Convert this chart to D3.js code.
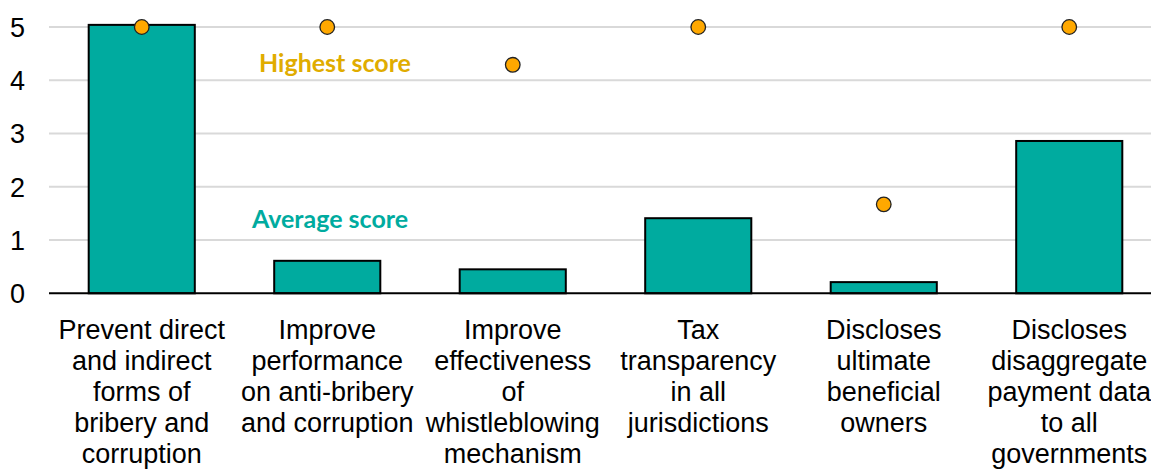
<!DOCTYPE html>
<html><head><meta charset="utf-8">
<script src="https://cdn.jsdelivr.net/npm/d3@7"></script>
<style>
html,body{margin:0;padding:0;background:#fff;overflow:hidden;}
svg{display:block;}
</style></head>
<body>
<svg id="c" width="1151" height="469"></svg>
<script>
const categories = [
  ["Prevent direct","and indirect","forms of","bribery and","corruption"],
  ["Improve","performance","on anti-bribery","and corruption"],
  ["Improve","effectiveness","of","whistleblowing","mechanism"],
  ["Tax","transparency","in all","jurisdictions"],
  ["Discloses","ultimate","beneficial","owners"],
  ["Discloses","disaggregate","payment data","to all","governments"]
];
const averageScore = [5.04, 0.61, 0.45, 1.41, 0.21, 2.86];
const highestScore = [5, 5, 4.29, 5, 1.67, 5];
const yTicks = [0,1,2,3,4,5];

const svg = d3.select("#c");
const pLeft = 49, pRight = 1162, pTop = 27, pBottom = 293.3;
const x = d3.scaleBand().domain(d3.range(categories.length)).range([pLeft, pRight]).paddingInner(0.428).paddingOuter(0.214);
const y = d3.scaleLinear().domain([0,5]).range([pBottom, pTop]);
const FONT = "'Liberation Sans', Arial, sans-serif";

// gridlines
svg.append("g").selectAll("line").data(yTicks.filter(d=>d>0)).join("line")
  .attr("x1", pLeft).attr("x2", 1151).attr("y1", d=>y(d)).attr("y2", d=>y(d))
  .attr("stroke", "#d9d9d9").attr("stroke-width", 2);

// y tick labels
svg.append("g").selectAll("text").data(yTicks).join("text")
  .attr("x", 25).attr("y", d=>y(d)).attr("dy","0.36em")
  .attr("text-anchor","end")
  .attr("font-family",FONT).attr("font-size",27).attr("fill","#000")
  .text(d=>d);

// bars
svg.append("g").selectAll("rect").data(averageScore).join("rect")
  .attr("x", (d,i)=>x(i)).attr("width", x.bandwidth())
  .attr("y", d=>y(d)).attr("height", d=>y(0)-y(d))
  .attr("fill","#00AB9F").attr("stroke","#000").attr("stroke-width",2);

// baseline
svg.append("line").attr("x1", pLeft).attr("x2", 1151).attr("y1", y(0)).attr("y2", y(0))
  .attr("stroke","#000").attr("stroke-width",2);

// dots
svg.append("g").selectAll("circle").data(highestScore).join("circle")
  .attr("cx",(d,i)=>x(i)+x.bandwidth()/2).attr("cy", d=>y(d)).attr("r",7.3)
  .attr("fill","#FFA800").attr("stroke","#222").attr("stroke-width",1.3);

// category labels
const cl = svg.append("g").selectAll("text").data(categories).join("text")
  .attr("text-anchor","middle")
  .attr("font-family",FONT).attr("font-size",27).attr("fill","#000");
cl.each(function(lines,i){
  const t = d3.select(this);
  lines.forEach((ln,j)=>{
    t.append("tspan").attr("x", x(i)+x.bandwidth()/2).attr("y", 339 + j*31).text(ln);
  });
});

// annotations
svg.append("text").attr("x", 335).attr("y", 72).attr("text-anchor","middle")
  .attr("font-family","Lato, 'Open Sans', sans-serif").attr("font-weight","bold").attr("font-size",25)
  .attr("fill","#E0AC00").text("Highest score");
svg.append("text").attr("x", 330).attr("y", 228).attr("text-anchor","middle")
  .attr("font-family","Lato, 'Open Sans', sans-serif").attr("font-weight","bold").attr("font-size",25)
  .attr("fill","#00AB9F").text("Average score");
</script>
</body></html>
